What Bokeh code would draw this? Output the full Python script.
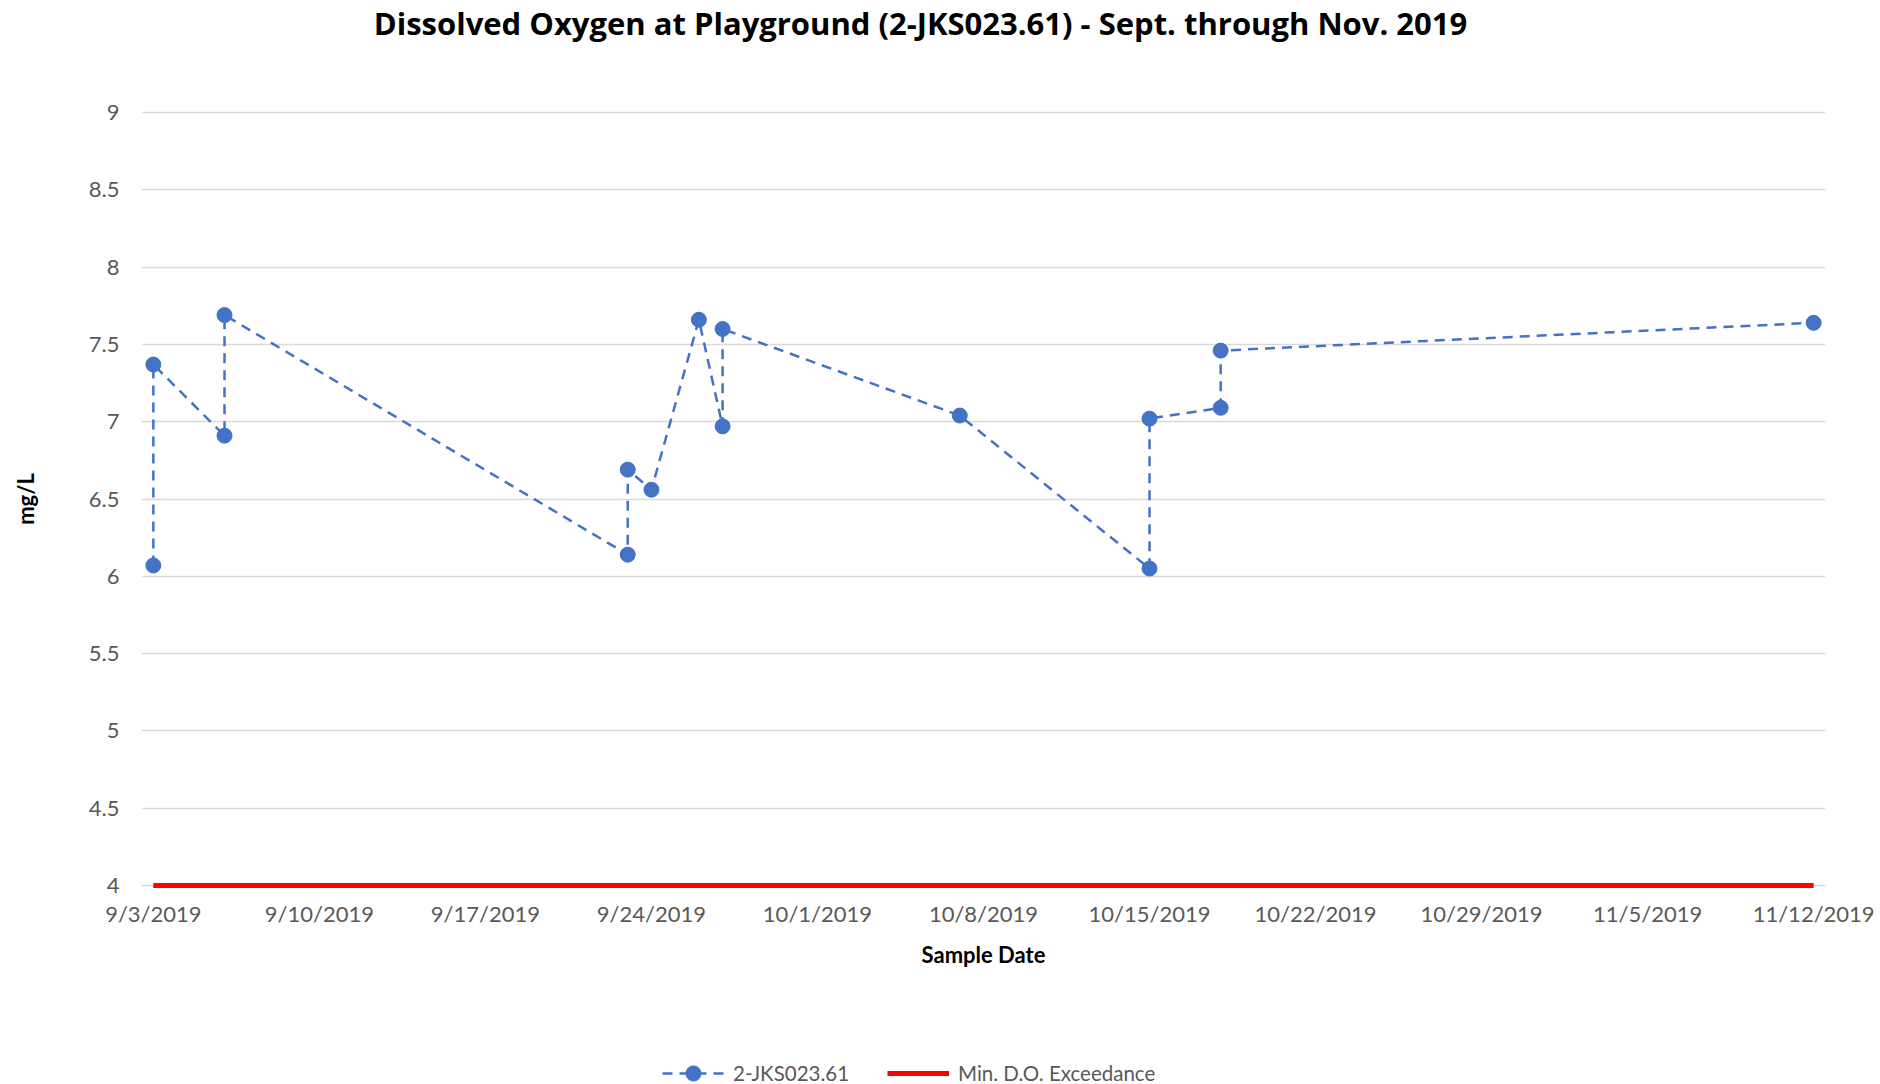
import pandas as pd
from bokeh.plotting import figure
from bokeh.layouts import column
from bokeh.models import (Range1d, FixedTicker, NumeralTickFormatter, Legend,
                          LegendItem, Label, ColumnDataSource)
from bokeh.embed import file_html
from bokeh.resources import INLINE

# ---------------- data ----------------
sample_dates = ["2019-09-03", "2019-09-03", "2019-09-06", "2019-09-06",
                "2019-09-23", "2019-09-23", "2019-09-24", "2019-09-26",
                "2019-09-27", "2019-09-27", "2019-10-07", "2019-10-15",
                "2019-10-15", "2019-10-18", "2019-10-18", "2019-11-12"]
do_values = [6.07, 7.37, 6.91, 7.69,
             6.14, 6.69, 6.56, 7.66,
             6.97, 7.60, 7.04, 6.05,
             7.02, 7.09, 7.46, 7.64]

min_do_dates = ["2019-09-03", "2019-11-12"]
min_do_values = [4, 4]

x_tick_dates = ["2019-09-03", "2019-09-10", "2019-09-17", "2019-09-24",
                "2019-10-01", "2019-10-08", "2019-10-15", "2019-10-22",
                "2019-10-29", "2019-11-05", "2019-11-12"]
x_tick_labels = ["9/3/2019", "9/10/2019", "9/17/2019", "9/24/2019",
                 "10/1/2019", "10/8/2019", "10/15/2019", "10/22/2019",
                 "10/29/2019", "11/5/2019", "11/12/2019"]
y_ticks = [4, 4.5, 5, 5.5, 6, 6.5, 7, 7.5, 8, 8.5, 9]

series_name = "2-JKS023.61"
min_name = "Min. D.O. Exceedance"
title_text = "Dissolved Oxygen at Playground (2-JKS023.61) - Sept. through Nov. 2019"

# ---------------- styles ----------------
FONT = "Lato"
TITLE_FONT = "Open Sans"
GREY = "#595959"
BLUE = "#4472C4"
RED = "#FF0000"
W = 1880
BL, BR = 141, 55          # frame borders (shared by all strips)

line_style = dict(line_color=BLUE, line_width=2.5, line_dash="10 7")
pt_style = dict(marker="circle", size=15, fill_color=BLUE, line_color=BLUE)
min_style = dict(line_color=RED, line_width=5)


def bare_figure(h):
    f = figure(width=W, height=h, output_backend="svg", toolbar_location=None,
               x_axis_location=None, y_axis_location=None,
               x_range=Range1d(0, 1), y_range=Range1d(0, 1),
               min_border_left=BL, min_border_right=BR,
               min_border_top=0, min_border_bottom=0)
    f.outline_line_color = None
    f.grid.visible = False
    f.background_fill_color = "white"
    f.border_fill_color = "white"
    return f


# ---------------- data sources ----------------
src = ColumnDataSource(dict(date=pd.to_datetime(sample_dates), do=do_values))
src_min = ColumnDataSource(dict(date=pd.to_datetime(min_do_dates), do=min_do_values))

# ---------------- title strip ----------------
p_title = bare_figure(44)
p_title.add_layout(Label(x=779, y=22, x_units="screen", y_units="screen",
                         text=title_text, text_align="center", text_baseline="middle",
                         text_font=TITLE_FONT, text_font_style="bold",
                         text_font_size="31px", text_color="black"))

# ---------------- main chart ----------------
half_day = pd.Timedelta(hours=12)
x_start = pd.to_datetime(x_tick_dates[0]) - half_day
x_end = pd.to_datetime(x_tick_dates[-1]) + half_day
pad = 0.02

p = figure(width=W, height=996, x_axis_type="datetime",
           output_backend="svg", toolbar_location=None,
           x_range=Range1d(x_start, x_end),
           y_range=Range1d(min(y_ticks) - pad, max(y_ticks) + pad),
           min_border_left=BL, min_border_right=BR,
           min_border_top=65, min_border_bottom=152)
p.outline_line_color = None
p.background_fill_color = "white"
p.border_fill_color = "white"

p.xgrid.visible = False
p.ygrid.grid_line_color = "#D9D9D9"
p.ygrid.grid_line_width = 1.5

p.yaxis.ticker = FixedTicker(ticks=y_ticks)
p.yaxis.formatter = NumeralTickFormatter(format="0.[0]")
p.yaxis.axis_line_color = None
p.yaxis.major_tick_line_color = None
p.yaxis.minor_tick_line_color = None
p.yaxis.major_label_text_font = FONT
p.yaxis.major_label_text_font_size = "22px"
p.yaxis.major_label_text_color = GREY
p.yaxis.major_label_standoff = 16
p.yaxis.axis_label = "mg/L"
p.yaxis.axis_label_text_font = FONT
p.yaxis.axis_label_text_font_style = "bold"
p.yaxis.axis_label_text_font_size = "22px"
p.yaxis.axis_label_text_color = "black"
p.yaxis.axis_label_standoff = 47

tick_ms = [pd.Timestamp(t).value / 1e6 for t in x_tick_dates]
p.xaxis.ticker = FixedTicker(ticks=tick_ms)
p.xaxis.major_label_overrides = {ms: lab for ms, lab in zip(tick_ms, x_tick_labels)}
p.xaxis.axis_line_color = None
p.xaxis.major_tick_line_color = None
p.xaxis.minor_tick_line_color = None
p.xaxis.major_label_text_font = FONT
p.xaxis.major_label_text_font_size = "22px"
p.xaxis.major_label_text_color = GREY
p.xaxis.major_label_standoff = 5
p.xaxis.axis_label = "Sample Date"
p.xaxis.axis_label_text_font = FONT
p.xaxis.axis_label_text_font_style = "bold"
p.xaxis.axis_label_text_font_size = "22px"
p.xaxis.axis_label_text_color = "black"
p.xaxis.axis_label_standoff = 11

p.line("date", "do", source=src_min, **min_style)
p.line("date", "do", source=src, **line_style)
p.scatter("date", "do", source=src, **pt_style)

# ---------------- legend strip ----------------
# same series, drawn out of view (strip's ranges are 0..1); only the legend shows
p_leg = bare_figure(44)
lg_line = p_leg.line("date", "do", source=src, **line_style)
lg_pts = p_leg.scatter("date", "do", source=src, **pt_style)
lg_min = p_leg.line("date", "do", source=src_min, **min_style)
legend = Legend(items=[LegendItem(label=series_name, renderers=[lg_line, lg_pts]),
                       LegendItem(label=min_name, renderers=[lg_min])],
                location=(521, -8), orientation="horizontal",
                glyph_width=62, glyph_height=38, label_standoff=9, spacing=38,
                padding=0, margin=0, border_line_color=None,
                background_fill_alpha=0,
                label_text_font=FONT, label_text_font_size="20.5px",
                label_text_color=GREY)
p_leg.add_layout(legend, "center")

layout = column(p_title, p, p_leg, spacing=0)
open("out.html", "w").write(file_html(layout, INLINE))
